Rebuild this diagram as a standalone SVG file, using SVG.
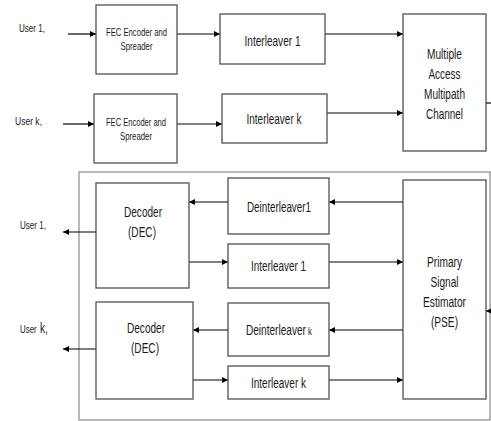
<svg xmlns="http://www.w3.org/2000/svg" width="491" height="421" viewBox="0 0 491 421">
<style>
.box{fill:#fff;stroke:#505050;stroke-width:1.3}
.outer{fill:none;stroke:#8a8a8a;stroke-width:1.2}
.ln{fill:none;stroke:#000;stroke-width:1.2}
text{font-family:"Liberation Sans",Arial,sans-serif;fill:#1a1a1a;text-anchor:middle}
.t14{font-size:14px}
.t11{font-size:11px}
.lbl{text-anchor:start}
</style>
<defs>
<marker id="ah" viewBox="0 0 8 8" refX="8" refY="4" markerWidth="6" markerHeight="6" markerUnits="userSpaceOnUse" orient="auto">
<path d="M0,0 L8,4 L0,8 Z" fill="#000"/>
</marker>
</defs>
<rect width="491" height="421" fill="#fff"/>
<rect id="receiver" class="outer" x="79" y="172" width="411" height="248"/>
<g id="connectors">
<line class="ln" x1="68" y1="34" x2="96" y2="34" marker-end="url(#ah)"/>
<line class="ln" x1="177" y1="34" x2="220" y2="34" marker-end="url(#ah)"/>
<line class="ln" x1="325" y1="34" x2="403" y2="34" marker-end="url(#ah)"/>
<line class="ln" x1="63" y1="124" x2="94" y2="124" marker-end="url(#ah)"/>
<line class="ln" x1="177" y1="124" x2="222" y2="124" marker-end="url(#ah)"/>
<line class="ln" x1="327" y1="113" x2="403" y2="113" marker-end="url(#ah)"/>
<line class="ln" x1="486" y1="103" x2="491" y2="103"/>
<line class="ln" x1="491" y1="311" x2="486" y2="311" marker-end="url(#ah)"/>
<line class="ln" x1="403" y1="202" x2="329" y2="202" marker-end="url(#ah)"/>
<line class="ln" x1="228" y1="202" x2="189" y2="202" marker-end="url(#ah)"/>
<line class="ln" x1="186" y1="262" x2="228" y2="262" marker-end="url(#ah)"/>
<line class="ln" x1="329" y1="262" x2="403" y2="262" marker-end="url(#ah)"/>
<line class="ln" x1="403" y1="330" x2="329" y2="330" marker-end="url(#ah)"/>
<line class="ln" x1="228" y1="330" x2="193" y2="330" marker-end="url(#ah)"/>
<line class="ln" x1="193" y1="380" x2="228" y2="380" marker-end="url(#ah)"/>
<line class="ln" x1="329" y1="380" x2="403" y2="380" marker-end="url(#ah)"/>
<line class="ln" x1="96" y1="232" x2="63" y2="232" marker-end="url(#ah)"/>
<line class="ln" x1="96" y1="349" x2="63" y2="349" marker-end="url(#ah)"/>
</g>
<g id="user1-in"><text class="t11 lbl" x="19" y="32" textLength="26" lengthAdjust="spacingAndGlyphs">User 1,</text></g>
<g id="userk-in"><text class="t11 lbl" x="15" y="125" textLength="27" lengthAdjust="spacingAndGlyphs">User k,</text></g>
<g id="fec1">
<rect class="box" x="96" y="5" width="81" height="69"/>
<text class="t11" x="136.5" y="36" textLength="61" lengthAdjust="spacingAndGlyphs">FEC Encoder and</text>
<text class="t11" x="136.5" y="50" textLength="32" lengthAdjust="spacingAndGlyphs">Spreader</text>
</g>
<g id="feck">
<rect class="box" x="94" y="94" width="83" height="69"/>
<text class="t11" x="136" y="126" textLength="60" lengthAdjust="spacingAndGlyphs">FEC Encoder and</text>
<text class="t11" x="136" y="140" textLength="32" lengthAdjust="spacingAndGlyphs">Spreader</text>
</g>
<g id="interleaver1">
<rect class="box" x="220" y="14" width="105" height="50"/>
<text class="t14" x="272.5" y="46" textLength="56" lengthAdjust="spacingAndGlyphs">Interleaver 1</text>
</g>
<g id="interleaverk">
<rect class="box" x="222" y="94" width="105" height="49"/>
<text class="t14" x="274" y="124" textLength="55" lengthAdjust="spacingAndGlyphs">Interleaver k</text>
</g>
<g id="channel">
<rect class="box" x="403" y="14" width="83" height="137"/>
<text class="t14" x="444.5" y="59" textLength="35" lengthAdjust="spacingAndGlyphs">Multiple</text>
<text class="t14" x="444.5" y="79" textLength="32" lengthAdjust="spacingAndGlyphs">Access</text>
<text class="t14" x="444.5" y="99" textLength="41" lengthAdjust="spacingAndGlyphs">Multipath</text>
<text class="t14" x="444.5" y="119" textLength="37" lengthAdjust="spacingAndGlyphs">Channel</text>
</g>
<g id="user1-out"><text class="t11 lbl" x="20" y="229" textLength="26" lengthAdjust="spacingAndGlyphs">User 1,</text></g>
<g id="userk-out">
<text class="t11 lbl" transform="translate(20,333) scale(0.72,1)">User</text>
<text class="t14 lbl" transform="translate(40,333) scale(0.72,1)">k,</text>
</g>
<g id="decoder1">
<rect class="box" x="96" y="183" width="93" height="105"/>
<text class="t14" x="143" y="217" textLength="38" lengthAdjust="spacingAndGlyphs">Decoder</text>
<text class="t14" x="142" y="237" textLength="28" lengthAdjust="spacingAndGlyphs">(DEC)</text>
</g>
<g id="decoderk">
<rect class="box" x="96" y="302" width="97" height="97"/>
<text class="t14" x="146" y="333" textLength="38" lengthAdjust="spacingAndGlyphs">Decoder</text>
<text class="t14" x="145" y="353" textLength="28" lengthAdjust="spacingAndGlyphs">(DEC)</text>
</g>
<g id="deinterleaver1">
<rect class="box" x="228" y="178" width="101" height="56"/>
<text class="t14" x="279" y="212" textLength="64" lengthAdjust="spacingAndGlyphs">Deinterleaver1</text>
</g>
<g id="interleaver1-rx">
<rect class="box" x="228" y="244" width="101" height="44"/>
<text class="t14" x="278.5" y="271" textLength="55" lengthAdjust="spacingAndGlyphs">Interleaver 1</text>
</g>
<g id="deinterleaverk">
<rect class="box" x="228" y="303" width="101" height="53"/>
<text class="t14 lbl" transform="translate(246,335) scale(0.72,1)">Deinterleaver</text>
<text class="t11 lbl" transform="translate(308,335) scale(0.72,1)">k</text>
</g>
<g id="interleaverk-rx">
<rect class="box" x="228" y="366" width="101" height="33"/>
<text class="t14" x="278.5" y="388" textLength="55" lengthAdjust="spacingAndGlyphs">Interleaver k</text>
</g>
<g id="pse">
<rect class="box" x="403" y="180" width="83" height="219"/>
<text class="t14" x="444.5" y="267" textLength="35" lengthAdjust="spacingAndGlyphs">Primary</text>
<text class="t14" x="444.5" y="287" textLength="28" lengthAdjust="spacingAndGlyphs">Signal</text>
<text class="t14" x="444.5" y="307" textLength="43" lengthAdjust="spacingAndGlyphs">Estimator</text>
<text class="t14" x="444.5" y="327" textLength="27" lengthAdjust="spacingAndGlyphs">(PSE)</text>
</g>
</svg>
